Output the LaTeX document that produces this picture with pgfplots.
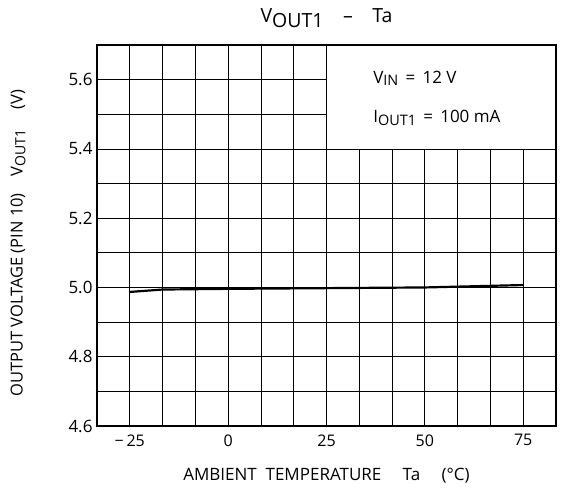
\documentclass[border=0pt]{standalone}
\usepackage{pgfplots}
\pgfplotsset{compat=1.18}
\usepackage{fontspec}
\setmainfont{Open Sans}
\newcommand{\sub}[1]{\raisebox{-0.3ex}{\fontsize{0.85em}{1em}\selectfont #1}}
\newcommand{\subf}[1]{\raisebox{-0.3em}{#1}}
\begin{document}
\begin{tikzpicture}
\path (-97bp,-70bp) rectangle (470bp,426bp);
\begin{axis}[
  at={(0,0)}, anchor=south west,
  scale only axis, width=459bp, height=381bp,
  xmin=-33.3333, xmax=83.3333, ymin=4.6, ymax=5.7,
  xtick={-25,0,25,50,75},
  xticklabels={−\,25,0,25,50,75},
  minor xtick={-33.3333,-16.6667,-8.3333,8.3333,16.6667,33.3333,41.6667,58.3333,66.6667,83.3333},
  ytick={4.6,4.8,5.0,5.2,5.4,5.6},
  yticklabels={4.6,4.8,5.0,5.2,5.4,5.6},
  minor ytick={4.7,4.9,5.1,5.3,5.5},
  major tick length=0pt, minor tick length=0pt,
  grid=both,
  major grid style={black, line width=0.8pt},
  minor grid style={black, line width=0.8pt},
  axis line style={line width=1.6pt},
  xticklabel style={font=\fontsize{16bp}{19bp}\selectfont, yshift=-5bp},
  yticklabel style={font=\fontsize{17bp}{20bp}\selectfont, xshift=-1bp},
  xlabel={AMBIENT\ \ TEMPERATURE\quad\ Ta\quad\ (°C)},
  xlabel style={font=\fontsize{17bp}{20bp}\selectfont, at={(axis description cs:0.5,0)}, anchor=center, yshift=-50bp},
  ylabel={OUTPUT VOLTAGE (PIN 10)\quad V\sub{OUT1}\quad\ (V)},
  ylabel style={font=\fontsize{16.5bp}{20bp}\selectfont, at={(axis description cs:-0.172,0.48)}, anchor=center},
  title={V\subf{OUT1}\quad–\quad Ta},
  title style={font=\fontsize{19.5bp}{22bp}\selectfont, at={(axis description cs:0.5,1)}, anchor=base, yshift=17bp},
  clip=false,
]
\addplot[black, line width=2.2pt] coordinates {
  (-25,4.987) (-16.67,4.994) (0,4.996) (25,4.998) (50,5.000) (75,5.007)
};
\fill[white] (axis cs:25,5.4) rectangle (axis cs:83.3333,5.7);
\draw[black, line width=0.8pt] (axis cs:25,5.7) -- (axis cs:25,5.4) -- (axis cs:83.3333,5.4);
\draw[line width=1.6pt] (rel axis cs:0,0) rectangle (rel axis cs:1,1);
\node[anchor=base west, font=\fontsize{17bp}{20bp}\selectfont] at (axis cs:36,5.59) {V\sub{IN}\ \,=\ \,12 V};
\node[anchor=base west, font=\fontsize{17bp}{20bp}\selectfont] at (axis cs:36,5.475) {I\sub{OUT1}\ \,=\ \,100 mA};
\end{axis}
\end{tikzpicture}
\end{document}
